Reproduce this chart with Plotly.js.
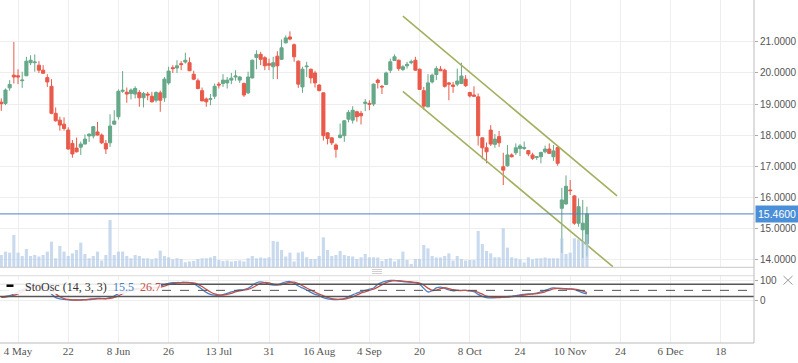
<!DOCTYPE html>
<html>
<head>
<meta charset="utf-8">
<script src="https://cdn.plot.ly/plotly-3.0.1.min.js"></script>
<style>html,body{margin:0;padding:0;background:#fff}#chart{width:798px;height:363px}</style>
</head>
<body>
<div id="chart"></div>
<script>
// ---- DATA ----
var openP = [19.06,19.02,19.52,19.93,19.91,19.75,19.91,20.33,20.33,20.25,20.09,19.85,19.57,18.70,18.48,18.35,18.16,17.73,17.58,17.61,
17.71,17.97,17.97,18.10,18.00,17.73,17.75,18.35,18.59,19.41,19.38,19.34,19.32,19.37,19.20,19.32,19.25,19.12,19.36,19.20,
19.68,20.17,20.16,20.30,20.35,20.33,19.96,19.75,19.43,19.16,19.15,19.25,19.64,19.66,19.68,19.77,19.87,19.77,19.66,19.36,
19.84,20.50,20.60,20.49,20.30,20.20,20.54,20.44,20.97,21.16,20.91,20.38,19.55,20.20,20.12,20.00,19.61,19.36,18.07,17.91,
17.68,17.92,17.98,18.51,18.48,18.75,18.70,19.02,19.02,19.00,19.77,19.57,19.63,20.09,20.40,20.41,20.11,20.23,20.33,20.41,
20.12,19.43,18.91,19.71,19.95,20.12,20.09,19.68,19.61,19.64,19.66,19.80,19.37,19.29,19.23,17.91,17.59,18.16,17.70,17.95,
16.98,17.01,17.36,17.43,17.57,17.57,17.50,17.36,17.28,17.30,17.46,17.55,17.30,17.60,15.64,15.78,16.23,16.04,15.16,14.95,14.50];
var highP = [19.18,19.50,19.77,21.00,20.12,20.04,20.52,20.57,20.60,20.38,20.25,19.96,19.80,18.89,18.59,18.57,18.25,17.84,17.92,17.79,
18.02,18.05,18.29,18.42,18.05,17.84,18.67,18.80,19.47,20.06,19.53,19.50,19.57,19.45,19.39,19.39,19.39,19.41,19.43,19.87,
20.20,20.25,20.41,20.38,20.65,20.50,20.07,19.82,19.53,19.21,19.32,19.66,19.71,19.96,19.87,20.00,20.09,19.90,19.69,20.04,
20.43,20.73,20.68,20.54,20.46,20.52,20.70,21.08,21.21,21.34,20.95,20.40,20.20,20.36,20.14,20.07,19.64,19.38,18.09,17.93,
17.73,18.37,18.48,18.80,18.93,18.78,18.78,19.16,19.12,19.66,19.82,19.61,20.04,20.46,20.60,20.43,20.25,20.36,20.43,20.52,
20.14,19.55,19.96,19.98,20.22,20.22,20.14,19.71,19.71,20.14,20.33,19.93,19.39,19.57,19.34,17.92,17.76,18.32,18.03,18.13,
17.43,17.68,17.41,17.73,17.71,17.79,17.52,17.43,17.32,17.46,17.66,17.73,17.68,17.62,16.30,16.70,16.55,16.07,15.96,15.91,15.69];
var lowP = [18.78,18.96,19.43,19.66,19.64,19.52,19.90,20.25,20.04,20.00,19.98,19.55,18.67,18.43,18.14,18.14,17.53,17.27,17.44,17.36,
17.70,17.78,17.89,17.98,17.71,17.39,17.62,18.33,18.50,19.36,19.04,19.15,19.18,18.91,18.89,19.12,19.05,19.05,18.75,19.07,
19.62,20.00,20.00,20.09,20.30,20.06,19.77,19.47,19.09,18.91,18.96,19.16,19.50,19.55,19.50,19.64,19.75,19.68,19.23,19.32,
19.82,20.12,20.25,20.09,20.09,19.80,19.80,20.43,20.95,21.05,20.36,19.52,19.36,19.87,19.66,19.53,19.41,17.82,17.70,17.68,
17.27,17.89,17.78,18.41,18.37,18.43,18.34,18.77,18.80,18.93,19.50,19.32,19.61,20.00,20.39,20.07,20.06,20.14,20.28,20.07,
19.45,18.82,18.89,19.66,19.77,20.06,19.53,19.12,19.36,19.57,19.64,19.55,19.21,19.23,17.66,17.22,17.09,17.65,17.59,17.62,
16.39,16.98,17.28,17.36,17.32,17.52,17.32,17.20,17.20,17.09,17.41,17.39,17.17,17.01,14.20,15.76,16.07,15.11,15.05,14.04,14.09];
var closeP = [19.01,19.45,19.63,19.87,19.87,19.77,20.38,20.41,20.35,20.09,19.99,19.71,18.70,18.46,18.32,18.21,17.55,17.39,17.46,17.71,
17.87,18.03,18.27,18.00,17.75,17.55,18.29,18.45,19.41,19.44,19.32,19.45,19.50,19.20,19.34,19.29,19.07,19.37,19.12,19.80,
20.06,20.14,20.23,20.27,20.41,20.07,19.80,19.50,19.10,19.07,19.17,19.57,19.61,19.77,19.77,19.83,19.90,19.87,19.29,19.87,
20.41,20.60,20.44,20.23,20.25,20.33,20.23,20.81,21.13,21.09,20.52,19.64,20.12,20.22,19.84,19.68,19.43,17.98,17.89,17.75,
17.54,18.00,18.46,18.73,18.80,18.59,18.62,19.06,18.99,19.64,19.69,19.55,20.00,20.36,20.52,20.14,20.20,20.28,20.36,20.09,
19.47,18.93,19.68,19.93,20.14,20.07,19.57,19.64,19.57,19.74,19.90,19.59,19.26,19.25,17.98,17.59,17.46,17.71,17.87,17.75,
16.87,17.36,17.30,17.59,17.65,17.60,17.39,17.25,17.30,17.44,17.55,17.41,17.49,17.09,15.91,16.35,16.21,15.16,15.69,15.16,15.46];
var volume = [12.3,15.7,14.7,32.3,14.7,11.3,18.3,11.3,12.3,10.7,12.3,15.7,25.7,9,21.3,15.7,11.3,14,17.3,24.7,
13.3,9,11.3,15.7,6.7,12.3,47.3,12.3,15.7,15.7,11.3,9,12.3,11.3,9,9,8,9,16.7,11.3,
10,8,9,8.3,5,5.7,6.3,8.3,9,9,9.7,11.3,7.3,6.3,6.7,5.7,6.3,6.7,5.7,9,
11.3,9,9.7,9,10,26.3,25.7,17.3,10.7,14.7,5.7,14.7,15.7,10,8.3,8.3,11.3,30,17.3,11.3,
12.3,16.3,12.3,11.3,10.7,8.3,10,13.3,10,10,9.7,6.3,8.3,9,5.7,8,15.7,7.3,3.3,8.3,
8.3,22.3,19,11.3,9.7,9.7,11.3,14,6.7,11.3,8.3,6.7,7.3,7.3,36.3,23.3,16.3,14,10,10,
39,19.7,10,9,8,4.7,10,8,9,9,9.7,9,9,9,29,13.3,14.7,29,28,25.7,33];
var stochK = [17,20,24,32,42,52,62,70,74,72,65,52,32,14,8,5,3,2,2,3,
4,6,8,10,9,8,14,22,34,44,50,54,58,60,61,62,62,64,70,79,
85,88,89,89,90,88,82,70,55,40,30,26,26,29,35,42,48,52,54,60,
74,88,92,88,80,76,77,85,92,94,86,72,62,52,40,30,24,14,8,5,
4,6,9,18,28,36,44,50,56,62,80,90,96,99,99,96,94,92,90,88,
80,60,42,48,62,66,60,52,48,50,50,50,47,44,30,20,14,13,14,16,
17,19,20,24,28,30,32,33,36,42,50,58,62,60,58,57,56,54,46,38,32];
var stochD = [15,17,20,25,33,42,52,61,69,72,70,63,50,33,18,9,5,3,2,2,
3,4,6,8,9,9,10,15,23,33,43,49,54,57,60,61,62,63,65,71,
78,84,87,89,89,89,87,80,69,55,42,32,27,27,30,35,42,47,51,55,
63,74,85,89,87,81,78,79,85,90,91,84,73,62,51,41,31,23,15,9,
6,5,6,11,18,27,36,43,50,56,66,77,89,95,98,98,96,94,92,90,
86,76,61,50,51,59,63,59,53,50,49,50,49,47,40,31,21,16,14,14,
16,17,19,21,24,27,30,32,34,37,43,50,57,60,60,58,57,56,52,46,39];
var tickIndex = [4,16,28,40,52,64,76,88,100,112,124,136,148,160,172];
var tickLabels = ['4 May','22','8 Jun','26','13 Jul','31','16 Aug','4 Sep','20','8 Oct','24','10 Nov','24','6 Dec','18'];
var priceTicks = [14,15,16,17,18,19,20,21];
var stochLevels = [80,50,20];
var stochTicks = [0,100];
// channel drawn on the chart: [startIndex, endIndex], [startPrice, endPrice]
var channelX = [96.0,147.2];
var channelUpperY = [21.83,16.04];
var channelLowerX = [96.0,146.2];
var channelLowerY = [19.41,13.76];
var stochLabel = 'StoOsc (14, 3, 3)';
var stochKLabel = '15.5', stochDLabel = '26.7';

// ---- CHART ----
var idx = closeP.map(function(_, i){ return i; });
var lastPrice = closeP[closeP.length-1];
var PLOT_W = 754, PLOT_H = 343;
function py(y){ return (PLOT_H - y)/PLOT_H; }
function px(x){ return x/PLOT_W; }

var traces = [
  {type:'candlestick', x:idx, open:openP, high:highP, low:lowP, close:closeP, xaxis:'x', yaxis:'y',
   increasing:{line:{color:'#66a889', width:1}, fillcolor:'#66a889'},
   decreasing:{line:{color:'#e95a4a', width:1}, fillcolor:'#e95a4a'},
   whiskerwidth:0, hoverinfo:'none', showlegend:false},
  {type:'bar', x:idx, y:volume, xaxis:'x', yaxis:'y3', marker:{color:'rgba(176,200,230,0.68)', line:{width:0}},
   hoverinfo:'none', showlegend:false},
  {type:'scatter', mode:'lines', x:channelX, y:channelUpperY, xaxis:'x', yaxis:'y',
   line:{color:'#a2b060', width:1.6}, hoverinfo:'none', showlegend:false},
  {type:'scatter', mode:'lines', x:channelLowerX, y:channelLowerY, xaxis:'x', yaxis:'y',
   line:{color:'#a2b060', width:1.6}, hoverinfo:'none', showlegend:false},
  {type:'scatter', mode:'lines', x:idx, y:stochK, xaxis:'x', yaxis:'y2',
   line:{color:'#4a80c6', width:1.3, shape:'spline'}, hoverinfo:'none', showlegend:false},
  {type:'scatter', mode:'lines', x:idx, y:stochD, xaxis:'x', yaxis:'y2',
   line:{color:'#c4524c', width:1.3, shape:'spline'}, hoverinfo:'none', showlegend:false}
];

var mainBottom = py(267.3), stochTop = py(275.7);
var shapes = [];
stochLevels.forEach(function(v){
  shapes.push({type:'line', xref:'paper', yref:'y2', x0:0, x1:1, y0:v, y1:v,
    line:{color:'#555', width: v===50 ? 1 : 1.5, dash: v===50 ? 'dash' : 'solid'}});
});
shapes.push({type:'line', xref:'paper', yref:'y', x0:0, x1:1, y0:lastPrice, y1:lastPrice, line:{color:'#4f7fbd', width:1}});
shapes.push({type:'line', xref:'paper', yref:'paper', x0:0, x1:1, y0:mainBottom, y1:mainBottom, line:{color:'#c8c8c8', width:1}});
shapes.push({type:'line', xref:'paper', yref:'paper', x0:0, x1:1, y0:stochTop, y1:stochTop, line:{color:'#dcdcdc', width:1}});
shapes.push({type:'line', xref:'paper', yref:'paper', x0:0, x1:1, y0:0, y1:0, line:{color:'#bbbbbb', width:1}});
shapes.push({type:'line', xref:'paper', yref:'paper', x0:1, x1:1, y0:0, y1:1, line:{color:'#bbbbbb', width:1}});
// legend backdrop
shapes.push({type:'rect', xref:'paper', yref:'paper', x0:0, x1:px(161), y0:py(294), y1:py(279.5),
  fillcolor:'rgba(255,255,255,0.88)', line:{width:0}});
shapes.push({type:'line', xref:'paper', yref:'paper', x0:px(6.5), x1:px(13.5), y0:py(285.7), y1:py(285.7), line:{color:'#000', width:2.5}});
// pane drag handle
[269.5,271.5,273.5].forEach(function(y){
  shapes.push({type:'line', xref:'paper', yref:'paper', x0:px(372), x1:px(382), y0:py(y), y1:py(y), line:{color:'#cfcfcf', width:1}});
});
// close icon
shapes.push({type:'line', xref:'paper', yref:'paper', x0:px(783.5), x1:px(792.5), y0:py(276), y1:py(284.5), line:{color:'#999', width:1}});
shapes.push({type:'line', xref:'paper', yref:'paper', x0:px(783.5), x1:px(792.5), y0:py(284.5), y1:py(276), line:{color:'#999', width:1}});

var annotations = [
  {xref:'paper', yref:'y', x:1, y:lastPrice, xanchor:'left', yanchor:'middle', xshift:1,
   text:lastPrice.toFixed(4), showarrow:false, bgcolor:'#4a8fd8', borderpad:2,
   font:{family:'Liberation Sans, Arial, sans-serif', size:10.5, color:'#fff'}},
  {xref:'paper', yref:'paper', x:px(22.5), y:py(286.7), xanchor:'left', yanchor:'middle', showarrow:false,
   text:stochLabel, font:{family:'Liberation Serif, Times New Roman, serif', size:12, color:'#333'}},
  {xref:'paper', yref:'paper', x:px(111), y:py(286.7), xanchor:'left', yanchor:'middle', showarrow:false,
   text:stochKLabel, font:{family:'Liberation Serif, Times New Roman, serif', size:12, color:'#4a80c6'}},
  {xref:'paper', yref:'paper', x:px(138), y:py(286.7), xanchor:'left', yanchor:'middle', showarrow:false,
   text:stochDLabel, font:{family:'Liberation Serif, Times New Roman, serif', size:12, color:'#c4524c'}}
];

var layout = {
  width:798, height:363,
  margin:{l:0, r:44, t:0, b:20},
  paper_bgcolor:'#fff', plot_bgcolor:'#fff',
  showlegend:false, boxgap:0.22, boxgroupgap:0.05, bargap:0.25,
  xaxis:{domain:[0,1], anchor:'y2', range:[-0.31,179.94], tickmode:'array', tickvals:tickIndex, ticktext:tickLabels,
    showgrid:true, gridcolor:'#eeeeee', gridwidth:1, zeroline:false, showline:false, ticks:'',
    tickfont:{family:'Liberation Serif, Times New Roman, serif', size:11, color:'#555'},
    rangeslider:{visible:false}, fixedrange:true},
  yaxis:{domain:[mainBottom,1], anchor:'x', side:'right', range:[13.74,22.35], tickmode:'array', tickvals:priceTicks,
    tickformat:'.4f', ticks:'outside', ticklen:3, tickcolor:'#aaa', showgrid:true, gridcolor:'#eeeeee', zeroline:false,
    showline:false, tickfont:{family:'Liberation Sans, Arial, sans-serif', size:10, color:'#555'}, fixedrange:true},
  yaxis3:{overlaying:'y', anchor:'x', range:[0,267.3], visible:false, fixedrange:true},
  yaxis2:{domain:[0,stochTop], anchor:'x', side:'right', range:[-212,123], tickmode:'array', tickvals:stochTicks,
    ticks:'outside', ticklen:3, tickcolor:'#aaa', showgrid:true, gridcolor:'#eeeeee', zeroline:false, showline:false,
    tickfont:{family:'Liberation Sans, Arial, sans-serif', size:10, color:'#555'}, fixedrange:true},
  shapes:shapes,
  annotations:annotations
};

Plotly.newPlot('chart', traces, layout, {staticPlot:true, displayModeBar:false});
</script>
</body>
</html>
